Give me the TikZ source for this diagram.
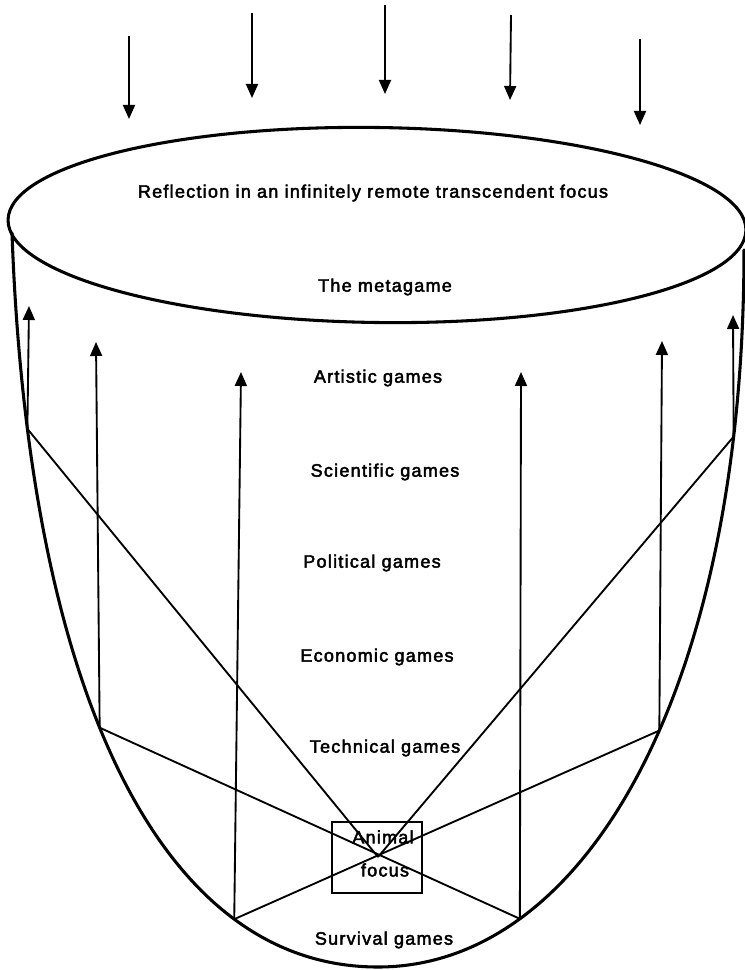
\documentclass[tikz,border=0pt]{standalone}
\usepackage{fontspec}
\setmainfont{Liberation Sans}[LetterSpace=7,FakeBold=2.5]
\usetikzlibrary{arrows.meta}
\begin{document}
\begin{tikzpicture}[x=0.75pt,y=-0.75pt,
  rim/.style={line width=2.3pt,line join=round,line cap=round},
  ray/.style={line width=1.4pt},
  beam/.style={line width=1.4pt,-{Triangle[length=10.5pt,width=9pt]}},
  lbl/.style={font=\fontsize{13.5}{15}\selectfont,inner sep=0pt}]
\useasboundingbox (0,0) rectangle (745,970);

% incoming rays from above
\coordinate (a1s) at (129,36);  \coordinate (a1e) at (129,119);
\coordinate (a2s) at (252,13);  \coordinate (a2e) at (252,98);
\coordinate (a3s) at (385,5);   \coordinate (a3e) at (385,94);
\coordinate (a4s) at (511,15);  \coordinate (a4e) at (510,100);
\coordinate (a5s) at (640,39);  \coordinate (a5e) at (640,125);
\foreach \i in {1,...,5} \draw[beam] (a\i s) -- (a\i e);

% the rim of the bowl
\draw[rim,rotate around={-0.8:(377,225)}] (377,225) ellipse [x radius=369,y radius=97.5];

% the bowl itself, with the reflection points on it
\draw[rim] (12,233)
  .. controls (28,680) and (155,967) ..
     coordinate[pos=0.155] (L1) coordinate[pos=0.45] (L2) coordinate[pos=0.76] (B1)
  (378,967)
  .. controls (585,967) and (744,690) ..
     coordinate[pos=0.245] (B2) coordinate[pos=0.555] (R2) coordinate[pos=0.85] (R1)
  (744,250);

% the focus
\coordinate (F) at (378,857);

% arrow heads of the reflected rays
\coordinate (L1t) at (29,306);
\coordinate (L2t) at (96,342);
\coordinate (B1t) at (241,372);
\coordinate (B2t) at (521,372);
\coordinate (R2t) at (662,341);
\coordinate (R1t) at (733,315);

% rays through the focus
\draw[ray] (L1) -- (F);
\draw[ray] (R1) -- (F);
\draw[ray] (L2) -- (B2);
\draw[ray] (R2) -- (B1);

% reflected rays going up
\foreach \p in {L1,L2,B1,B2,R2,R1} \draw[beam] (\p) -- (\p t);

% focus box
\node[draw,line width=1.4pt,minimum width=67.5pt,minimum height=53.25pt,inner sep=0pt] (box) at (377,857.5) {};
\node[lbl] (animal) at (383,837) {Animal};
\node[lbl] (focus) at (385,870) {focus};

% levels
\node[lbl] (refl) at (373,193) {Reflection in an infinitely remote transcendent focus};
\node[lbl] (meta) at (385,287) {The metagame};
\node[lbl] (art)  at (378,378) {Artistic games};
\node[lbl] (sci)  at (385,472) {Scientific games};
\node[lbl] (pol)  at (372,563) {Political games};
\node[lbl] (eco)  at (377,657) {Economic games};
\node[lbl] (tech) at (385,748) {Technical games};
\node[lbl] (surv) at (384,940) {Survival games};
\end{tikzpicture}
\end{document}
